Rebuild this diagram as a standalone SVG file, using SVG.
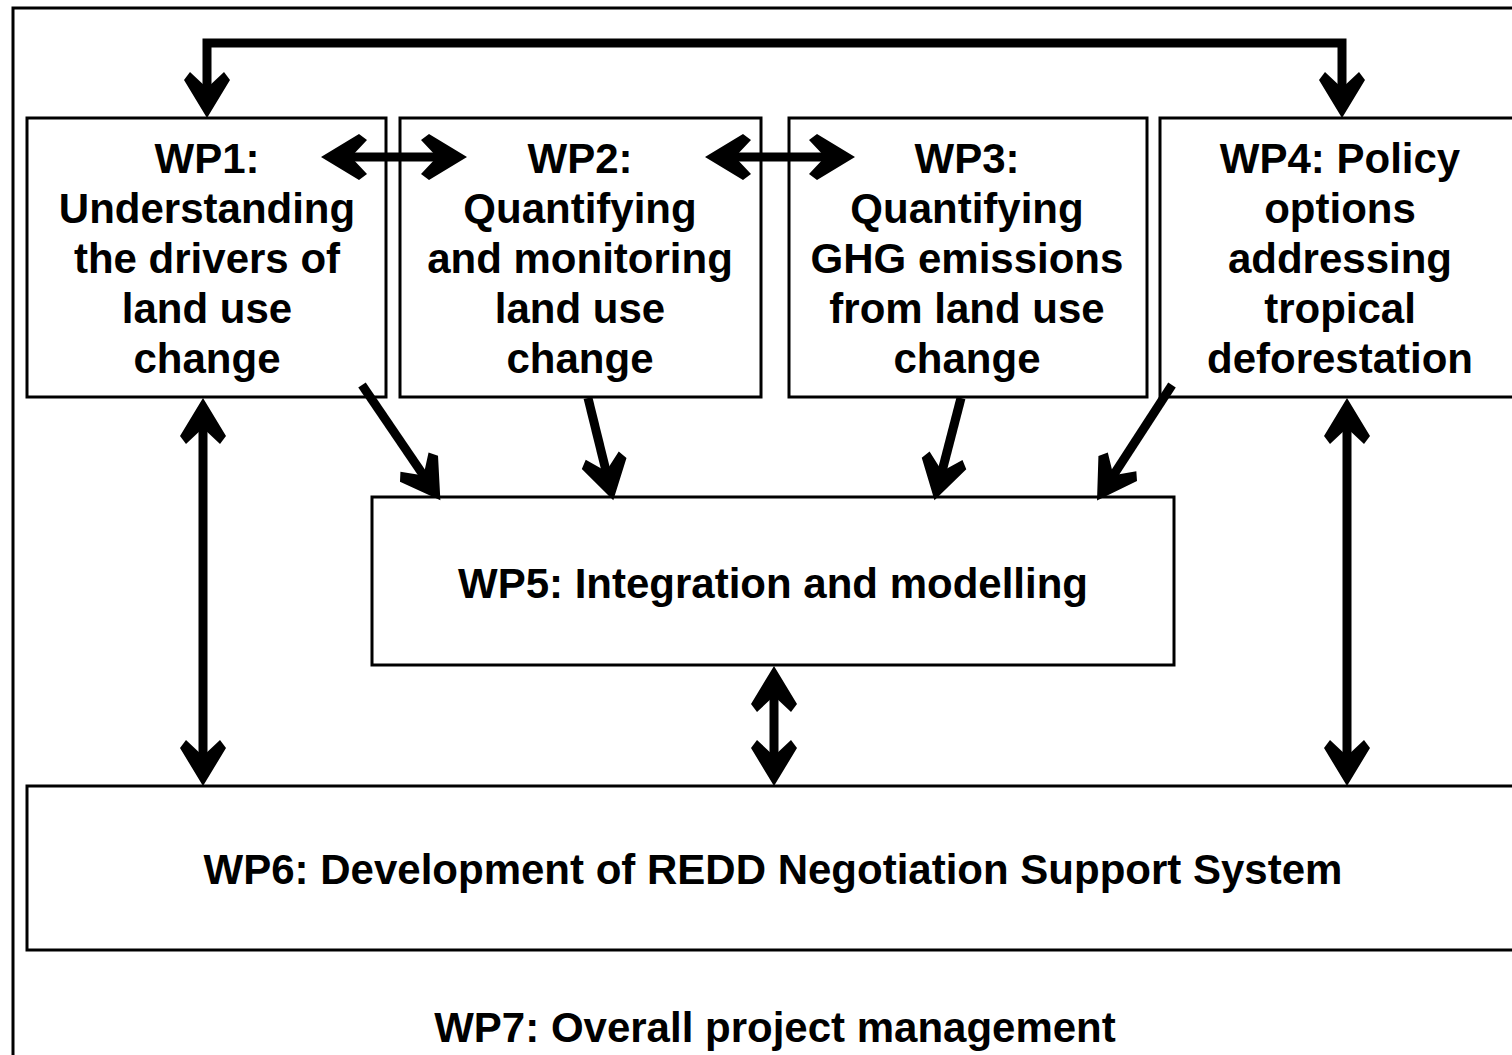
<svg xmlns="http://www.w3.org/2000/svg" width="1512" height="1055" viewBox="0 0 1512 1055">
<style>
.box{fill:#fff;stroke:#000;stroke-width:3}
.lbl{font-family:"Liberation Sans",Arial,Helvetica,sans-serif;font-weight:bold;font-size:42px;fill:#000;text-anchor:middle}
.conn{fill:none;stroke:#000;stroke-width:9;stroke-linejoin:miter}
</style>
<defs>
<marker id="ah" markerUnits="userSpaceOnUse" markerWidth="1" markerHeight="1" refX="0" refY="0" orient="auto-start-reverse" overflow="visible">
<path d="M22,0 L-16,-23 L-24,-17 L-8,0 L-24,17 L-16,23 Z" fill="#000"/>
</marker>
</defs>
<rect width="1512" height="1055" fill="#fff"/>
<g id="WP7">
<rect x="13" y="8" width="1520" height="1070" fill="none" stroke="#000" stroke-width="3"/>
<text class="lbl" x="775" y="1042">WP7: Overall project management</text>
</g>
<g id="WP1">
<rect class="box" x="27" y="118" width="359" height="279"/>
<text class="lbl" x="207" y="173">WP1:</text>
<text class="lbl" x="207" y="223">Understanding</text>
<text class="lbl" x="207" y="273">the drivers of</text>
<text class="lbl" x="207" y="323">land use</text>
<text class="lbl" x="207" y="373">change</text>
</g>
<g id="WP2">
<rect class="box" x="400" y="118" width="361" height="279"/>
<text class="lbl" x="580" y="173">WP2:</text>
<text class="lbl" x="580" y="223">Quantifying</text>
<text class="lbl" x="580" y="273">and monitoring</text>
<text class="lbl" x="580" y="323">land use</text>
<text class="lbl" x="580" y="373">change</text>
</g>
<g id="WP3">
<rect class="box" x="789" y="118" width="358" height="279"/>
<text class="lbl" x="967" y="173">WP3:</text>
<text class="lbl" x="967" y="223">Quantifying</text>
<text class="lbl" x="967" y="273">GHG emissions</text>
<text class="lbl" x="967" y="323">from land use</text>
<text class="lbl" x="967" y="373">change</text>
</g>
<g id="WP4">
<rect class="box" x="1160" y="118" width="362" height="279"/>
<text class="lbl" x="1340" y="173">WP4: Policy</text>
<text class="lbl" x="1340" y="223">options</text>
<text class="lbl" x="1340" y="273">addressing</text>
<text class="lbl" x="1340" y="323">tropical</text>
<text class="lbl" x="1340" y="373">deforestation</text>
</g>
<g id="WP5">
<rect class="box" x="372" y="497" width="802" height="168"/>
<text class="lbl" x="773" y="598">WP5: Integration and modelling</text>
</g>
<g id="WP6">
<rect class="box" x="27" y="786" width="1494" height="164"/>
<text class="lbl" x="773" y="884">WP6: Development of REDD Negotiation Support System</text>
</g>
<g id="connectors">
<path class="conn" d="M207,96 V43 H1342 V96" marker-start="url(#ah)" marker-end="url(#ah)"/>
<path class="conn" d="M343,157 H445" marker-start="url(#ah)" marker-end="url(#ah)"/>
<path class="conn" d="M727,157 H833" marker-start="url(#ah)" marker-end="url(#ah)"/>
<path class="conn" d="M362,385 L428,482" marker-end="url(#ah)"/>
<path class="conn" d="M588,398 L608,479" marker-end="url(#ah)"/>
<path class="conn" d="M961,398 L940,479" marker-end="url(#ah)"/>
<path class="conn" d="M1172,385 L1109,482" marker-end="url(#ah)"/>
<path class="conn" d="M203,420 V764" marker-start="url(#ah)" marker-end="url(#ah)"/>
<path class="conn" d="M1347,420 V764" marker-start="url(#ah)" marker-end="url(#ah)"/>
<path class="conn" d="M774,688 V764" marker-start="url(#ah)" marker-end="url(#ah)"/>
</g>
</svg>
